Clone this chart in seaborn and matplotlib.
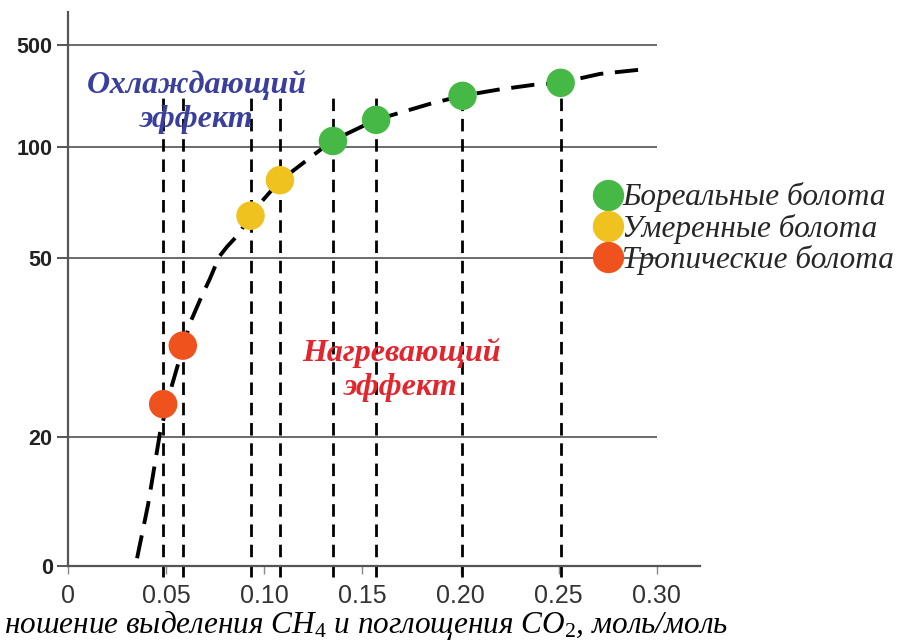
import numpy as np
import pandas as pd
import seaborn as sns
import matplotlib
matplotlib.use("Agg")
import matplotlib.pyplot as plt
from matplotlib.font_manager import FontProperties

# uneven y axis of the original: tick values and their heights (px above the x axis)
y_ticks = [0, 20, 50, 100, 500]
y_pos = [0, 129, 308, 419, 521]
x_ticks = [0, 0.05, 0.10, 0.15, 0.20, 0.25, 0.30]
x_labels = ["0", "0.05", "0.10", "0.15", "0.20", "0.25", "0.30"]

# wetland points
boreal_x = [0.135, 0.157, 0.201, 0.251]
boreal_y = [123, 206, 300, 351]
temperate_x = [0.093, 0.108]
temperate_y = [69, 85]
tropical_x = [0.0485, 0.0585]
tropical_y = [25.5, 35.3]
groups = ["Бореальные болота", "Умеренные болота", "Тропические болота"]
colors = ["#45b845", "#efc21f", "#f0521e"]

# dashed fitted curve
curve_x = [0.0352, 0.0408, 0.0469, 0.0530, 0.0622, 0.0680, 0.0723, 0.0770, 0.0810, 0.0876, 0.0927,
           0.108, 0.1345, 0.1569, 0.1844, 0.2007, 0.2185, 0.2369, 0.2506, 0.271, 0.2955]
curve_y = [1.2, 9.5, 20.7, 28.7, 39.1, 43.5, 46.5, 50.5, 55.0, 61.3, 69.4,
           84.7, 123.5, 206, 268.6, 300, 323.5, 343, 351, 386, 406]


def fwd(v):
    v = np.asarray(v, dtype=float)
    lo = (y_pos[1] - y_pos[0]) / (y_ticks[1] - y_ticks[0])
    hi = (y_pos[-1] - y_pos[-2]) / (y_ticks[-1] - y_ticks[-2])
    out = np.interp(v, y_ticks, y_pos)
    out = np.where(v < y_ticks[0], y_pos[0] + (v - y_ticks[0]) * lo, out)
    out = np.where(v > y_ticks[-1], y_pos[-1] + (v - y_ticks[-1]) * hi, out)
    return out


def inv(p):
    p = np.asarray(p, dtype=float)
    lo = (y_ticks[1] - y_ticks[0]) / (y_pos[1] - y_pos[0])
    hi = (y_ticks[-1] - y_ticks[-2]) / (y_pos[-1] - y_pos[-2])
    out = np.interp(p, y_pos, y_ticks)
    out = np.where(p < y_pos[0], y_ticks[0] + (p - y_pos[0]) * lo, out)
    out = np.where(p > y_pos[-1], y_ticks[-1] + (p - y_pos[-1]) * hi, out)
    return out


sns.set_theme(style="white")
plt.rcParams["font.family"] = ["Liberation Sans", "DejaVu Sans"]
plt.rcParams["mathtext.fontset"] = "custom"
plt.rcParams["mathtext.it"] = "Liberation Serif:italic"
plt.rcParams["mathtext.rm"] = "Liberation Serif"

pts = pd.DataFrame({
    "x": boreal_x + temperate_x + tropical_x,
    "y": boreal_y + temperate_y + tropical_y,
    "type": [groups[0]] * len(boreal_x) + [groups[1]] * len(temperate_x) + [groups[2]] * len(tropical_x),
})

fig = plt.figure(figsize=(9.15, 6.42), dpi=100)
ax = fig.add_axes([0.0743, 0.1184, 0.6907, 0.863])
ax.set_yscale("function", functions=(fwd, inv))
ax.set_xlim(0, 0.322)
ax.set_ylim(0, 629)

# horizontal grid lines
ax.hlines(y_ticks[1:], 0, 0.30, color="#6a6a6a", lw=1.4, zorder=1)

# vertical dashed lines through each point
ax.vlines(pts["x"], -1.7, np.maximum(pts["y"], 300), color="black", lw=2.0,
          linestyles=(0, (4.5, 2.8)), clip_on=False, zorder=2)

sns.lineplot(x=curve_x, y=curve_y, sort=False, color="black", lw=2.8,
             linestyle=(0, (6, 3)), ax=ax, zorder=3)

sns.scatterplot(data=pts, x="x", y="y", hue="type", hue_order=groups,
                palette=dict(zip(groups, colors)), s=420, linewidth=0,
                ax=ax, zorder=5)

ax.set_xticks(x_ticks)
ax.set_xticklabels(x_labels, fontsize=18, color="#333333")
ax.set_yticks(y_ticks)
ax.set_yticklabels([str(t) for t in y_ticks], fontsize=15.5, fontweight="bold", color="#222222")
ax.minorticks_off()
ax.tick_params(axis="y", length=8, width=1.4, color="#555555", pad=3, left=True)
ax.tick_params(axis="x", length=6, width=1.0, color="#888888", pad=7, bottom=True)
ax.set_xlabel("")
ax.set_ylabel("")
for side in ["top", "right"]:
    ax.spines[side].set_visible(False)
for side in ["left", "bottom"]:
    ax.spines[side].set_color("#555555")
    ax.spines[side].set_linewidth(1.6)

handles, labels = ax.get_legend_handles_labels()
ax.legend(handles, labels, loc="upper left", bbox_to_anchor=(583 / 915, 1 - 170 / 642),
          bbox_transform=fig.transFigure, frameon=False, markerscale=1.1,
          prop=FontProperties(family="Liberation Serif", style="italic", size=22.5),
          handlelength=0.8, handletextpad=0.05, labelspacing=0.04, borderaxespad=0)

serif_bi = dict(family="Liberation Serif", style="italic", fontweight="bold", size=23,
                ha="center", va="center")
fig.text(197 / 915, 1 - 85 / 642, "Охлаждающий", color="#3a3f9e", **serif_bi)
fig.text(197 / 915, 1 - 120 / 642, "эффект", color="#3a3f9e", **serif_bi)
fig.text(401 / 915, 1 - 353 / 642, "Нагревающий", color="#e3262e", **serif_bi)
fig.text(401 / 915, 1 - 388 / 642, "эффект", color="#e3262e", **serif_bi)

fig.text(4 / 915, 1 - 625 / 642,
         "ношение выделения $CH_4$ и поглощения $CO_2$, моль/моль",
         family="Liberation Serif", style="italic", size=22.5, color="black",
         ha="left", va="center")

fig.savefig("out.png", dpi=100)
